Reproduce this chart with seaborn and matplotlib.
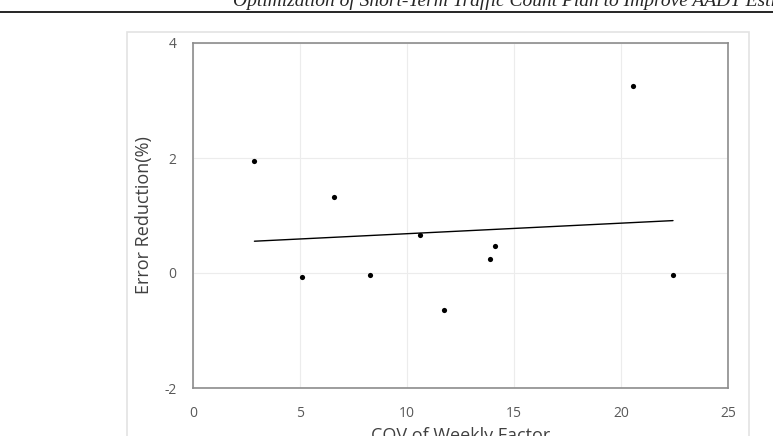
import seaborn as sns
from matplotlib import pyplot as plt
from matplotlib.patches import Rectangle
import pandas as pd

# COV of weekly factor vs error reduction (%)
cov = [2.87, 5.10, 6.57, 8.27, 10.59, 11.71, 13.90, 14.10, 20.58, 22.43]
reduction = [1.95, -0.07, 1.33, -0.03, 0.66, -0.65, 0.24, 0.47, 3.26, -0.03]
x_ticks = [0, 5, 10, 15, 20, 25]
y_ticks = [-2, 0, 2, 4]

data = pd.DataFrame({'cov': cov, 'reduction': reduction})

sns.set_style('white')
plt.rcParams['font.family'] = ['Open Sans', 'DejaVu Sans']
plt.rcParams['axes.unicode_minus'] = False

W, H = 773, 436
fig = plt.figure(figsize=(W / 100, H / 100), dpi=100)

# page header (cut off at the top of the scan)
fig.text(233 / W, 1 - 6 / H, 'Optimization of Short-Term Traffic Count Plan to Improve AADT Esti',
         family='Liberation Serif', style='italic', fontsize=14, va='baseline', ha='left')
fig.add_artist(plt.Line2D([0, 1], [1 - 12 / H, 1 - 12 / H], color='black', lw=1.2))

# chart frame
fig.add_artist(Rectangle((127 / W, -0.05), (749 - 127) / W, 1.05 - 32 / H,
                         facecolor='none', edgecolor='#e3e3e3', lw=1.2))

ax = fig.add_axes([193 / W, 1 - 388 / H, (728 - 193) / W, (388 - 43) / H])
sns.regplot(data=data, x='cov', y='reduction', ax=ax, ci=None, truncate=True,
            scatter_kws={'color': 'black', 's': 14, 'linewidths': 0, 'alpha': 1},
            line_kws={'color': 'black', 'lw': 1})

ax.set_xlim(0, 25)
ax.set_ylim(-2, 4)
ax.set_xticks(x_ticks)
ax.set_yticks(y_ticks)
ax.grid(True, color='#ececec', lw=0.8)
ax.set_axisbelow(True)
for s in ax.spines.values():
    s.set_color('#8c8c8c')
    s.set_linewidth(1.2)
ax.tick_params(axis='both', length=0, labelsize=10, colors='#595959')
ax.tick_params(axis='x', pad=13)
ax.tick_params(axis='y', pad=12)
ax.set_xlabel('COV of Weekly Factor', fontsize=13, color='#404040', labelpad=4)
ax.set_ylabel('Error Reduction(%)', fontsize=13, color='#404040', labelpad=8)

fig.savefig('out.png', dpi=100)
